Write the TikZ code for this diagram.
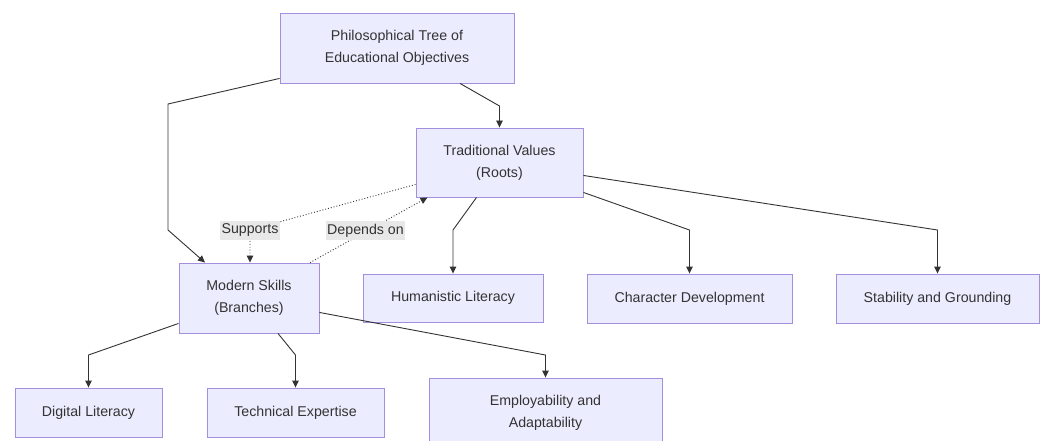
\documentclass[tikz,border=0pt]{standalone}
\usepackage{fontspec}
\setmainfont{Liberation Sans}
\usetikzlibrary{arrows.meta}
\definecolor{boxfill}{HTML}{ECECFF}
\definecolor{boxdraw}{HTML}{A48FDE}
\definecolor{edge}{HTML}{333333}
\definecolor{lblbg}{HTML}{E8E8E8}
\definecolor{txt}{HTML}{333333}
\tikzset{
  box/.style={draw=boxdraw, fill=boxfill, line width=0.9pt, inner sep=0pt, align=center,
    text=txt, font=\fontsize{14.2pt}{22pt}\selectfont},
  conn/.style={draw=edge, line width=0.9pt, -{Triangle[length=7pt,width=6.5pt]}},
  dotconn/.style={conn, dotted},
  lbl/.style={fill=lblbg, text=txt, inner xsep=1.5pt, inner ysep=3pt, font=\fontsize{14.2pt}{16pt}\selectfont}
}
\begin{document}
\begin{tikzpicture}[x=1pt,y=-1pt]
\useasboundingbox (0,0) rectangle (1045,441);
\fill[white] (0,0) rectangle (1045,441);
\node[box, minimum width=234pt, minimum height=70pt] (phil) at (397,48) {Philosophical Tree of\\Educational Objectives};
\node[box, minimum width=167pt, minimum height=69pt] (trad) at (499.5,162.5) {Traditional Values\\(Roots)};
\node[box, minimum width=140pt, minimum height=70pt] (modern) at (249,298) {Modern Skills\\(Branches)};
\node[box, minimum width=180pt, minimum height=48pt] (hum) at (453,298) {Humanistic Literacy};
\node[box, minimum width=205pt, minimum height=49pt] (char) at (689.5,298.5) {Character Development};
\node[box, minimum width=203pt, minimum height=49pt] (stab) at (937.5,298.5) {Stability and Grounding};
\node[box, minimum width=147pt, minimum height=49pt] (dig) at (88.5,412.5) {Digital Literacy};
\node[box, minimum width=177pt, minimum height=49pt] (tech) at (295.5,412.5) {Technical Expertise};
\node[box, minimum width=233pt, minimum height=70pt] (emp) at (545.5,413) {Employability and\\Adaptability};

\draw[conn] ([yshift=5pt]phil.south west) -- (168,104) -- (168,230) -- ([xshift=-44pt]modern.north);
\draw[conn] ([xshift=63pt]phil.south) -- (499.5,106) -- (trad.north);
\draw[dotconn] ([yshift=13pt]trad.south west) -- (250,230) -- ([xshift=1pt]modern.north);
\node[lbl] (sup) at (250,230.5) {Supports};
\draw[dotconn] ([xshift=61pt]modern.north) -- ([xshift=-72pt]trad.south);
\node[lbl] (dep) at (365.5,230.5) {Depends on};
\draw[conn] ([xshift=-23pt]trad.south) -- (453,230) -- (hum.north);
\draw[conn] ([yshift=5pt]trad.south east) -- (689.5,230) -- (char.north);
\draw[conn] ([yshift=22pt]trad.south east) -- (937.5,230) -- (stab.north);
\draw[conn] ([yshift=10pt]modern.south west) -- (88.5,355) -- (dig.north);
\draw[conn] ([xshift=29pt]modern.south) -- (295.5,355) -- (tech.north);
\draw[conn] ([yshift=21pt]modern.south east) -- (545.5,355) -- (emp.north);
\end{tikzpicture}
\end{document}
